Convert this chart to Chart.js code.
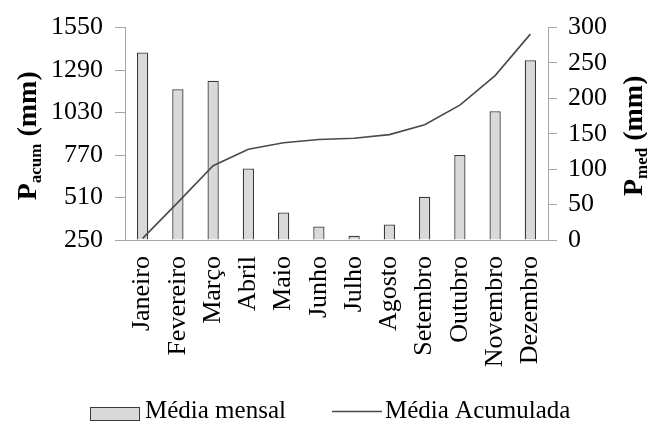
<!DOCTYPE html>
<html>
<head>
<meta charset="utf-8">
<script src="https://cdn.jsdelivr.net/npm/chart.js@4/dist/chart.umd.min.js"></script>
<style>
  html, body { margin: 0; padding: 0; background: #fff; }
  #wrap { width: 647px; height: 424px; position: relative; }
</style>
</head>
<body>
<div id="wrap"><canvas id="c" width="647" height="424"></canvas></div>
<script>
const months = ["Janeiro","Fevereiro","Março","Abril","Maio","Junho","Julho","Agosto","Setembro","Outubro","Novembro","Dezembro"];
const mediaMensal = [265, 213, 225, 101, 39, 19, 6, 22, 61, 120, 182, 254];
const mediaAcumulada = [260, 480, 705, 806, 845, 865, 873, 895, 955, 1075, 1256, 1510];
const leftTicks = [250, 510, 770, 1030, 1290, 1550];
const rightTicks = [0, 50, 100, 150, 200, 250, 300];
const leftTitle = { main: "P", sub: "acum", rest: " (mm)" };
const rightTitle = { main: "P", sub: "med", rest: " (mm)" };

const FONT = "'Liberation Serif', 'Times New Roman', serif";
const AXIS_COLOR = "#a6a6a6";

const titlePlugin = {
  id: 'axisTitles',
  afterDraw(chart) {
    const ctx = chart.ctx;
    const ca = chart.chartArea;
    const cy = (ca.top + ca.bottom) / 2 + 2;
    function drawTitle(t, x) {
      ctx.save();
      ctx.translate(x, cy);
      ctx.rotate(-Math.PI / 2);
      ctx.fillStyle = "#000";
      ctx.textBaseline = "alphabetic";
      const bigFont = "bold 28px " + FONT;
      const subFont = "bold 17px " + FONT;
      ctx.font = bigFont; const w1 = ctx.measureText(t.main).width;
      ctx.font = subFont; const w2 = ctx.measureText(t.sub).width;
      ctx.font = bigFont; const w3 = ctx.measureText(t.rest).width;
      const total = w1 + w2 + w3;
      let px = -total / 2;
      const base = 9;
      ctx.font = bigFont; ctx.fillText(t.main, px, base); px += w1;
      ctx.font = subFont; ctx.fillText(t.sub, px, base + 5); px += w2;
      ctx.font = bigFont; ctx.fillText(t.rest, px, base);
      ctx.restore();
    }
    drawTitle(leftTitle, 27);
    drawTitle(rightTitle, 633);

    // legend (drawn from the dataset definitions)
    const ds = chart.data.datasets;
    ctx.save();
    ctx.font = "25px " + FONT;
    ctx.textBaseline = "alphabetic";
    // bar entry
    ctx.fillStyle = ds[0].backgroundColor;
    ctx.fillRect(90, 407, 50, 14);
    ctx.strokeStyle = ds[0].borderColor;
    ctx.lineWidth = 1;
    ctx.strokeRect(90.5, 407.5, 49, 13);
    ctx.fillStyle = "#000";
    ctx.fillText(ds[0].label, 145, 418);
    // line entry
    ctx.strokeStyle = ds[1].borderColor;
    ctx.lineWidth = 1.5;
    ctx.beginPath();
    ctx.moveTo(332, 411.5);
    ctx.lineTo(382, 411.5);
    ctx.stroke();
    ctx.fillText(ds[1].label, 385, 418);
    ctx.restore();
  }
};

new Chart(document.getElementById('c'), {
  data: {
    labels: months,
    datasets: [
      {
        type: 'bar',
        label: 'Média mensal',
        data: mediaMensal,
        yAxisID: 'yR',
        backgroundColor: '#d9d9d9',
        borderColor: '#3a3a3a',
        borderWidth: 1.3,
        barPercentage: 0.64,
        categoryPercentage: 0.5,
        order: 2
      },
      {
        type: 'line',
        label: 'Média Acumulada',
        data: mediaAcumulada,
        yAxisID: 'yL',
        borderColor: '#4a4a4a',
        backgroundColor: '#4a4a4a',
        borderWidth: 1.6,
        pointRadius: 0,
        tension: 0,
        order: 1
      }
    ]
  },
  options: {
    responsive: false,
    animation: false,
    devicePixelRatio: 1,
    layout: { padding: { top: 0, bottom: 54, left: 0, right: 0 } },
    plugins: {
      tooltip: { enabled: false },
      legend: { display: false }
    },
    scales: {
      x: {
        grid: { display: false, drawTicks: true, tickLength: 7, color: AXIS_COLOR, offset: true },
        border: { display: true, color: AXIS_COLOR, width: 1 },
        ticks: {
          color: '#000',
          font: { family: FONT, size: 26 },
          minRotation: 90, maxRotation: 90,
          padding: 9,
          autoSkip: false
        },
        afterFit(scale) { scale.height = 130; }
      },
      yL: {
        position: 'left',
        min: 250, max: 1550,
        afterBuildTicks(scale) { scale.ticks = leftTicks.map(v => ({ value: v })); },
        grid: { display: true, drawOnChartArea: false, drawTicks: true, tickLength: 10, color: AXIS_COLOR },
        border: { display: true, color: AXIS_COLOR, width: 1 },
        ticks: { color: '#000', font: { family: FONT, size: 26 }, padding: 12, autoSkip: false,
                 callback: v => String(v) },
        afterFit(scale) { scale.width = 125; }
      },
      yR: {
        position: 'right',
        min: 0, max: 300,
        afterBuildTicks(scale) { scale.ticks = rightTicks.map(v => ({ value: v })); },
        grid: { display: true, drawOnChartArea: false, drawTicks: true, tickLength: 9, color: AXIS_COLOR },
        border: { display: true, color: AXIS_COLOR, width: 1 },
        ticks: { color: '#000', font: { family: FONT, size: 26 }, padding: 11, autoSkip: false,
                 callback: v => String(v) },
        afterFit(scale) { scale.width = 99; }
      }
    }
  },
  plugins: [titlePlugin]
});
</script>
</body>
</html>
